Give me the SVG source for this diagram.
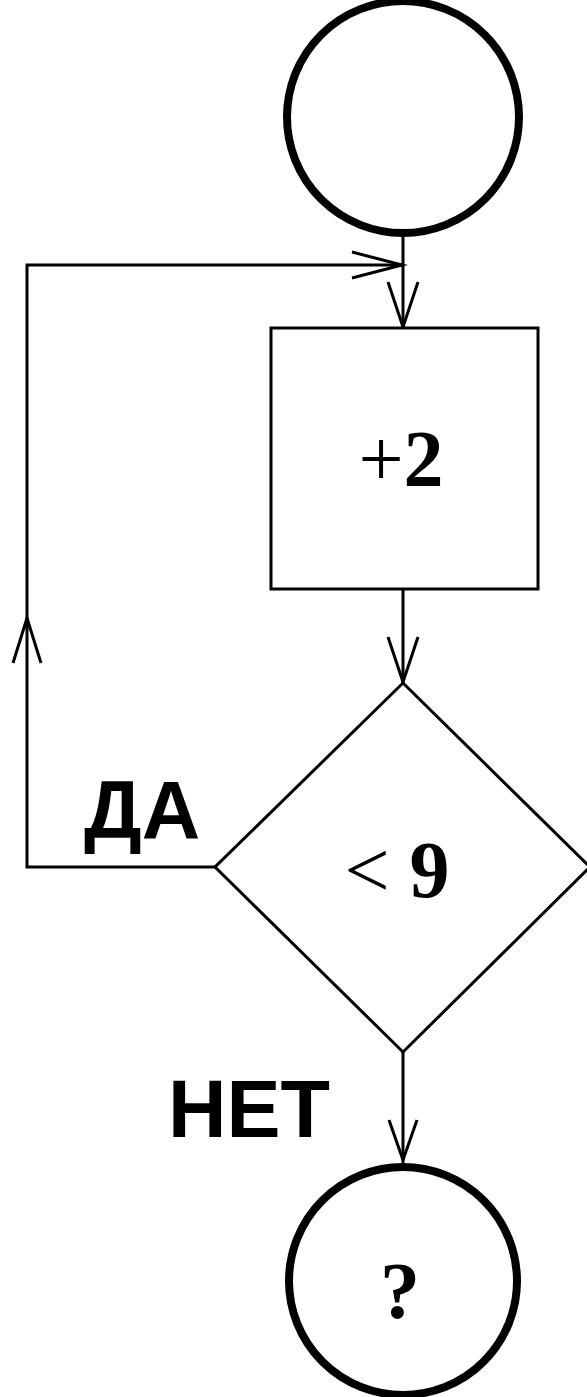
<svg xmlns="http://www.w3.org/2000/svg" width="587" height="1397" viewBox="0 0 587 1397">
<style>
.term{fill:#fff;stroke:#000;stroke-width:8}
.box{fill:#fff;stroke:#000;stroke-width:3}
.ln{fill:none;stroke:#000;stroke-width:3}
.ah{fill:none;stroke:#000;stroke-width:3;stroke-linecap:butt}
.serif{font-family:"Liberation Serif","Times New Roman",serif;font-size:80px;fill:#000}
.sans{font-family:"Liberation Sans",Arial,sans-serif;font-weight:bold;font-size:81px;fill:#000}
</style>
<rect width="587" height="1397" fill="#fff"/>
<g id="connectors">
<path class="ln" d="M403 237 V328"/>
<path class="ah" d="M388 282 L403 327 L418 282"/>
<path class="ln" d="M215 867 H27 V265 H403"/>
<path class="ah" d="M352 252 L402 265 L352 278"/>
<path class="ah" d="M13 663 L27 618 L41 663"/>
<path class="ln" d="M403 589 V683"/>
<path class="ah" d="M388 637 L403 682 L418 637"/>
<path class="ln" d="M403 1052 V1163"/>
<path class="ah" d="M389 1120 L403 1160 L417 1120"/>
</g>
<g id="start">
<circle class="term" cx="403" cy="117" r="116"/>
</g>
<g id="process">
<rect class="box" x="271" y="328" width="267" height="261"/>
<text class="serif" x="401" y="486" text-anchor="middle" font-size="82">+<tspan font-weight="bold">2</tspan></text>
</g>
<g id="decision">
<polygon class="box" points="403,683 590,867 403,1052 215,867"/>
<text class="serif" x="397" y="897" text-anchor="middle" font-size="82">&lt; <tspan font-weight="bold">9</tspan></text>
</g>
<g id="label-yes">
<text class="sans" x="84" y="838">ДА</text>
</g>
<g id="label-no">
<text class="sans" x="168" y="1137">НЕТ</text>
</g>
<g id="end">
<circle class="term" cx="403" cy="1281" r="114"/>
<text class="serif" x="400" y="1318" text-anchor="middle" font-weight="bold">?</text>
</g>
</svg>
